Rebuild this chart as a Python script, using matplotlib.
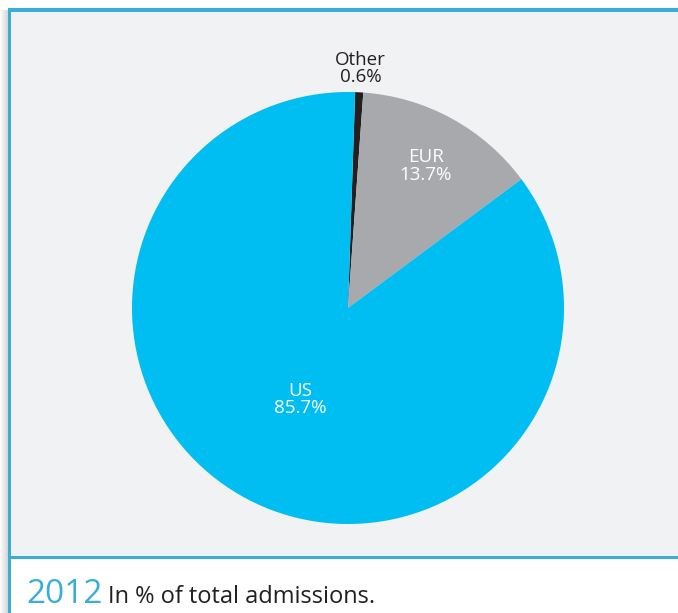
import matplotlib.pyplot as plt
from matplotlib.patches import Rectangle
import numpy as np

# dados do grafico
categorias = ['Other', 'EUR', 'US']
valores = [0.6, 13.7, 85.7]
rotulos = ['0.6%', '13.7%', '85.7%']
cores = ['#231f20', '#a7a9ac', '#00bdf2']
cores_texto = ['#231f20', 'white', 'white']
dist_rotulo = [1.11, 0.75, 0.48]

ano = '2012'
legenda = 'In % of total admissions.'

plt.rcParams['font.family'] = ['Open Sans', 'DejaVu Sans']

W, H = 678, 613
fig = plt.figure(figsize=(W / 100, H / 100), dpi=100)
fig.patch.set_facecolor('white')

# fundo / moldura em coordenadas de pixel
bg = fig.add_axes([0, 0, 1, 1])
bg.set_xlim(0, W)
bg.set_ylim(H, 0)
bg.axis('off')

# sombra a esquerda
for i in range(8):
    bg.add_patch(Rectangle((i, 10), 1, H - 10, color='black',
                           alpha=0.015 + 0.02 * i, lw=0))
bg.add_patch(Rectangle((10.5, 11.5), W, 545, color='#f1f2f4', lw=0))
azul = '#3aaed8'
bg.add_patch(Rectangle((7.5, 8), W, 3.5, color=azul, lw=0))
bg.add_patch(Rectangle((7.5, 8), 3, H, color=azul, lw=0))
bg.add_patch(Rectangle((7.5, 556), W, 3, color=azul, lw=0))

bg.text(26, 603, ano, color=azul, fontsize=24, va='baseline', ha='left')
bg.text(108, 603, legenda, color='#231f20', fontsize=17, va='baseline', ha='left')

# pizza
cx, cy, r = 348, 308, 216
ax = fig.add_axes([(cx - r) / W, 1 - (cy + r) / H, 2 * r / W, 2 * r / H])
ax.axis('off')
fatias, _ = ax.pie(valores, colors=cores, startangle=88.1, counterclock=False,
                   radius=1, wedgeprops=dict(linewidth=0))
ax.set_xlim(-1, 1)
ax.set_ylim(-1, 1)

for w, cat, rot, ct, d in zip(fatias, categorias, rotulos, cores_texto, dist_rotulo):
    ang = np.deg2rad((w.theta1 + w.theta2) / 2)
    ax.text(d * np.cos(ang), d * np.sin(ang), cat + '\n' + rot, color=ct,
            fontsize=13.5, ha='center', va='center', linespacing=0.95)

fig.savefig('out.png', dpi=100)
